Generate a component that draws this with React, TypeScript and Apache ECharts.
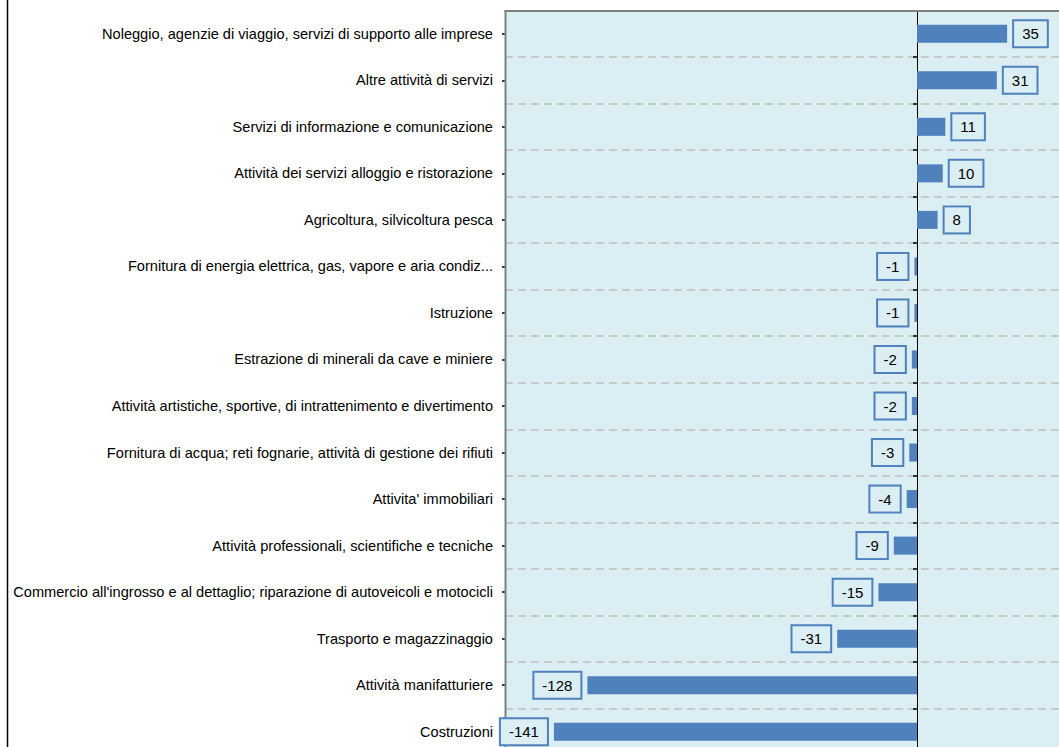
import React, { useEffect, useRef } from "react";
import * as echarts from "echarts";

const categories = [
  "Noleggio, agenzie di viaggio, servizi di supporto alle imprese",
  "Altre attività di servizi",
  "Servizi di informazione e comunicazione",
  "Attività dei servizi alloggio e ristorazione",
  "Agricoltura, silvicoltura pesca",
  "Fornitura di energia elettrica, gas, vapore e aria condiz...",
  "Istruzione",
  "Estrazione di minerali da cave e miniere",
  "Attività artistiche, sportive, di intrattenimento e divertimento",
  "Fornitura di acqua; reti fognarie, attività di gestione dei rifiuti",
  "Attivita' immobiliari",
  "Attività professionali, scientifiche e tecniche",
  "Commercio all'ingrosso e al dettaglio; riparazione di autoveicoli e motocicli",
  "Trasporto e magazzinaggio",
  "Attività manifatturiere",
  "Costruzioni",
];

const values = [35, 31, 11, 10, 8, -1, -1, -2, -2, -3, -4, -9, -15, -31, -128, -141];

const axisMin = -160;
const axisMax = 60;

const FONT = "'Liberation Sans', Arial, sans-serif";
const BLUE = "#4F81BD";
const BG = "#DAEEF3";

export default function App() {
  const ref = useRef<HTMLDivElement>(null);

  useEffect(() => {
    if (!ref.current) return;
    const chart = echarts.init(ref.current, undefined, { renderer: "svg" });
    const cat = (extra: any) => ({
      type: "category",
      data: categories,
      inverse: true,
      position: "left",
      ...extra,
    });
    chart.setOption({
      animation: false,
      backgroundColor: "#fff",
      grid: {
        left: 505,
        top: 10.5,
        right: 8.5,
        bottom: 5,
        show: true,
        backgroundColor: BG,
        borderColor: BG,
        borderWidth: 0,
      },
      xAxis: {
        type: "value",
        min: axisMin,
        max: axisMax,
        show: false,
      },
      yAxis: [
        cat({
          axisLine: { show: false, onZero: false },
          axisTick: { show: false },
          axisLabel: {
            interval: 0,
            color: "#000",
            fontFamily: FONT,
            fontSize: 14.6,
            margin: 12,
          },
          splitLine: {
            show: true,
            interval: 0,
            lineStyle: { color: "#BFBFBF", width: 1.5, type: [8, 5] },
          },
        }),
        cat({
          axisLine: { show: true, onZero: true, lineStyle: { color: "#000", width: 1 } },
          axisTick: { show: true, interval: 0, length: 4, lineStyle: { color: "#000", width: 1.5 } },
          axisLabel: { show: false },
          splitLine: { show: false },
        }),
        cat({
          axisLine: { show: true, onZero: true, lineStyle: { color: "#000", width: 1 } },
          axisTick: { show: true, interval: 0, alignWithLabel: true, length: 3, lineStyle: { color: "#000", width: 1.5 } },
          axisLabel: { show: false },
          splitLine: { show: false },
        }),
      ],
      series: [
        {
          type: "bar",
          yAxisIndex: 0,
          barWidth: 18,
          itemStyle: { color: BLUE },
          data: values.map((v) => ({
            value: v,
            label: { position: v < 0 ? "left" : "right" },
          })),
          label: {
            show: true,
            distance: 7,
            formatter: "{c}",
            color: "#000",
            fontFamily: FONT,
            fontSize: 15,
            lineHeight: 17,
            backgroundColor: BG,
            borderColor: BLUE,
            borderWidth: 2,
            padding: [4, 8, 4, 8],
          },
        },
      ],
      graphic: [
        {
          type: "line",
          shape: { x1: 7.5, y1: 0, x2: 7.5, y2: 760 },
          style: { stroke: "#000", lineWidth: 1.5 },
          silent: true,
        },
        {
          type: "line",
          shape: { x1: 504.5, y1: 11, x2: 1080, y2: 11 },
          style: { stroke: "#808080", lineWidth: 2 },
          silent: true,
          z: 1,
        },
        {
          type: "line",
          shape: { x1: 505.5, y1: 10, x2: 505.5, y2: 760 },
          style: { stroke: "#808080", lineWidth: 2 },
          silent: true,
          z: 1,
        },
      ],
    });
    return () => chart.dispose();
  }, []);

  return (
    <div
      style={{
        position: "absolute",
        left: 0,
        top: 0,
        width: 1059,
        height: 747,
        overflow: "hidden",
        background: "#fff",
      }}
    >
      <div ref={ref} style={{ width: 1080, height: 760 }} />
    </div>
  );
}
